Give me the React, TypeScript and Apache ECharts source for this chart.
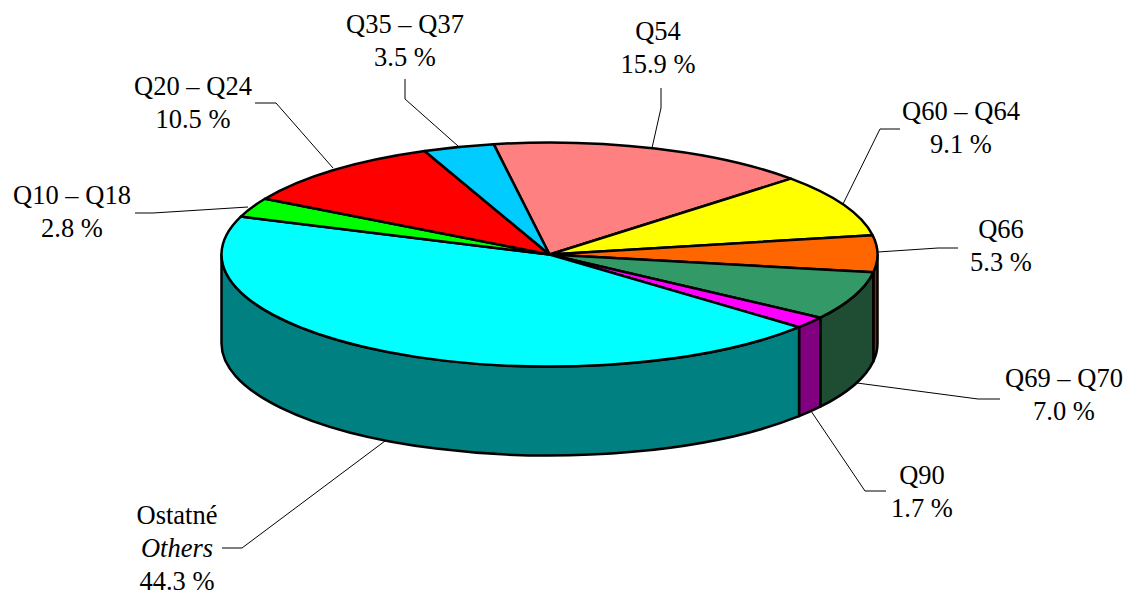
import React, { useEffect, useRef } from "react";
import * as echarts from "echarts";

const categories = ["Q54", "Q60 – Q64", "Q66", "Q69 – Q70", "Q90", "Ostatné", "Q10 – Q18", "Q20 – Q24", "Q35 – Q37"];
const shares = [15.9, 9.1, 5.3, 7.0, 1.7, 44.3, 2.8, 10.5, 3.5];
const topColors = ["#ff8080", "#ffff00", "#ff6600", "#339966", "#ff00ff", "#00ffff", "#00ff00", "#ff0000", "#00ccff"];
const sideColors = ["#804040", "#808000", "#803300", "#1f4d33", "#800080", "#008080", "#008000", "#800000", "#006680"];

const CX = 549.5;
const CY = 254.5;
const RX = 328;
const RY = 112;
const DEPTH = 89;
const START_DEG = -9.8;
const FONT = "'Liberation Serif', 'Times New Roman', serif";
const FONT_SIZE = 26.5;

// label centre positions and leader lines, same order as categories
const labelPos: [number, number][] = [
  [658, 31], [961, 111], [1001, 229], [1064, 378], [922, 475], [177, 515], [72, 195], [193, 86], [405, 24],
];
const leaders: [number, number][][] = [
  [[652, 148], [661, 108], [661, 88]],
  [[843, 204], [880, 129], [900, 129]],
  [[878, 252], [938, 248], [958, 248]],
  [[857, 383], [978, 399], [1000, 399]],
  [[811, 411], [865, 491], [886, 491]],
  [[385, 441], [242, 548], [222, 548]],
  [[248, 207], [153, 213], [135, 213]],
  [[333, 168], [276, 103], [255, 103]],
  [[458, 146], [405, 99], [405, 79]],
];
const LINE_GAP = 33;

const cumulative: number[] = [];
shares.reduce((acc, v) => {
  cumulative.push(acc);
  return acc + v;
}, 0);
const total = shares.reduce((a, b) => a + b, 0);

const angleOf = (pct: number) => START_DEG + (pct / total) * 360;
const pt = (deg: number, dy = 0): [number, number] => {
  const r = (deg * Math.PI) / 180;
  return [CX + RX * Math.sin(r), CY - RY * Math.cos(r) + dy];
};
const fmt = (p: [number, number]) => `${p[0].toFixed(2)} ${p[1].toFixed(2)}`;

function topPath(a: number, b: number) {
  const large = b - a > 180 ? 1 : 0;
  return `M ${CX} ${CY} L ${fmt(pt(a))} A ${RX} ${RY} 0 ${large} 1 ${fmt(pt(b))} Z`;
}

function sidePath(a: number, b: number) {
  const from = Math.max(a, 90);
  const to = Math.min(b, 270);
  if (to <= from) return null;
  const large = to - from > 180 ? 1 : 0;
  return (
    `M ${fmt(pt(from))} A ${RX} ${RY} 0 ${large} 1 ${fmt(pt(to))} ` +
    `L ${fmt(pt(to, DEPTH))} A ${RX} ${RY} 0 ${large} 0 ${fmt(pt(from, DEPTH))} Z`
  );
}

export default function App() {
  const ref = useRef<HTMLDivElement>(null);
  useEffect(() => {
    document.body.style.margin = "0";
    const chart = echarts.init(ref.current!, null, { renderer: "svg" });

    const graphics: any[] = [];
    categories.forEach((name, i) => {
      graphics.push({
        type: "polyline",
        z: 0,
        shape: { points: leaders[i] },
        style: { stroke: "#000", lineWidth: 1, fill: "none" },
      });
      const lines: { text: string; italic?: boolean }[] =
        name === "Ostatné"
          ? [{ text: name }, { text: "Others", italic: true }, { text: `${shares[i].toFixed(1)} %` }]
          : [{ text: name }, { text: `${shares[i].toFixed(1)} %` }];
      lines.forEach((line, k) => {
        graphics.push({
          type: "text",
          z: 5,
          x: labelPos[i][0],
          y: labelPos[i][1] + k * LINE_GAP,
          style: {
            text: line.text,
            font: `${line.italic ? "italic " : ""}${FONT_SIZE}px ${FONT}`,
            fill: "#000",
            textAlign: "center",
            textVerticalAlign: "middle",
          },
        });
      });
    });

    chart.setOption({
      animation: false,
      backgroundColor: "#fff",
      graphic: graphics,
      series: [
        {
          type: "custom",
          coordinateSystem: "none",
          z: 2,
          silent: true,
          data: shares,
          renderItem: (params: any) => {
            const i = params.dataIndex;
            const d = sidePath(angleOf(cumulative[i]), angleOf(cumulative[i] + shares[i]));
            if (!d) return { type: "group", children: [] };
            return {
              type: "path",
              shape: { pathData: d },
              style: { fill: sideColors[i], stroke: "#000", lineWidth: 2.5, lineJoin: "round" },
            };
          },
        },
        {
          type: "custom",
          coordinateSystem: "none",
          z: 3,
          silent: true,
          data: shares,
          renderItem: (params: any) => {
            const i = params.dataIndex;
            return {
              type: "path",
              shape: { pathData: topPath(angleOf(cumulative[i]), angleOf(cumulative[i] + shares[i])) },
              style: { fill: topColors[i], stroke: "#000", lineWidth: 2.5, lineJoin: "round" },
            };
          },
        },
      ],
    });
    return () => chart.dispose();
  }, []);
  return <div ref={ref} style={{ position: "fixed", left: 0, top: 0, width: 1129, height: 595 }} />;
}
